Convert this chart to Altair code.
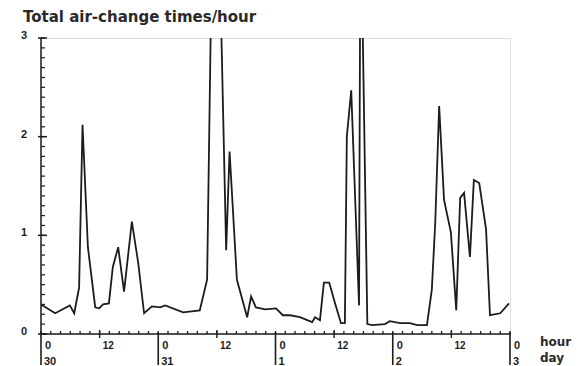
import altair as alt
import pandas as pd

# ---- data (hours since 0h on day 30) ----
hours = [0, 2.9, 5.9, 6.8, 7.8, 8.5, 9.6, 11.1, 11.9, 12.7,
         13.9, 14.7, 15.8, 17.0, 18.6, 19.9, 21.1, 22.7, 24.4, 25.4,
         29.1, 32.5, 34.0, 35.6, 37.9, 38.6, 40.1, 42.2, 43.0, 44.0,
         45.9, 48.1, 49.5, 51.0, 53.0, 55.5, 56.1, 57.1, 57.9, 59.0,
         60.2, 61.4, 62.2, 62.6, 63.5, 65.1, 65.4, 66.8, 67.8, 70.4,
         71.4, 73.5, 75.5, 77.0, 79.0, 80.0, 80.7, 81.5, 82.5, 83.9,
         85.0, 85.8, 86.6, 87.8, 88.6, 89.7, 91.1, 91.9, 94.0, 95.8]
values = [0.30, 0.21, 0.29, 0.21, 0.47, 2.12, 0.88, 0.27, 0.26, 0.30,
          0.31, 0.68, 0.88, 0.43, 1.14, 0.72, 0.21, 0.28, 0.27, 0.29,
          0.22, 0.24, 0.55, 6.0, 0.85, 1.85, 0.55, 0.17, 0.38, 0.27,
          0.25, 0.26, 0.19, 0.19, 0.17, 0.12, 0.17, 0.14, 0.52, 0.52,
          0.31, 0.11, 0.11, 2.0, 2.47, 0.29, 4.5, 0.10, 0.09, 0.10,
          0.13, 0.11, 0.11, 0.09, 0.09, 0.45, 1.13, 2.31, 1.36, 1.03,
          0.24, 1.38, 1.43, 0.78, 1.56, 1.53, 1.06, 0.19, 0.21, 0.31]

day_hours = [0, 24, 48, 72, 96]
day_labels = ["30", "31", "1", "2", "3"]
noon_hours = [12, 36, 60, 84]
noon_labels = ["12", "12", "12", "12"]
minor_hours = list(range(0, 97, 2))
y_major = [0, 1, 2, 3]
y_major_labels = ["0", "1", "2", "3"]
y_minor = [i / 10 for i in range(0, 31)]

title_text = "Total air-change times/hour"

W, H = 469, 296
INK = "#1c1c1c"
FONT = "Liberation Sans"

xs = alt.Scale(domain=[0, 96], nice=False, zero=False)
ys = alt.Scale(domain=[0, 3], nice=False)

df = pd.DataFrame({"hour": hours, "value": values})
one = pd.DataFrame({"k": [0]})

line = alt.Chart(df).mark_line(color=INK, strokeWidth=1.8, clip=True,
                               strokeJoin="miter").encode(
    x=alt.X("hour:Q", scale=xs, axis=None),
    y=alt.Y("value:Q", scale=ys, axis=None),
)

# axis lines
x_axis = alt.Chart(one).mark_rule(color=INK, strokeWidth=1.5).encode(
    x=alt.value(0), x2=alt.value(W), y=alt.value(H))
y_axis = alt.Chart(one).mark_rule(color=INK, strokeWidth=1.5).encode(
    x=alt.value(0), y=alt.value(0), y2=alt.value(H))

# x ticks
xminor = alt.Chart(pd.DataFrame({"hour": minor_hours})).mark_rule(
    color=INK, strokeWidth=1.3).encode(
    x=alt.X("hour:Q", scale=xs), y=alt.value(H - 3), y2=alt.value(H))
xnoon = alt.Chart(pd.DataFrame({"hour": noon_hours})).mark_rule(
    color=INK, strokeWidth=1.4).encode(
    x=alt.X("hour:Q", scale=xs), y=alt.value(H - 4), y2=alt.value(H + 4))
xday = alt.Chart(pd.DataFrame({"hour": day_hours})).mark_rule(
    color=INK, strokeWidth=1.6).encode(
    x=alt.X("hour:Q", scale=xs), y=alt.value(H - 2), y2=alt.value(H + 31))

hour0_lab = alt.Chart(pd.DataFrame({"hour": day_hours, "t": ["0"] * 5})).mark_text(
    align="left", baseline="alphabetic", dx=4, font=FONT, fontSize=11,
    fontWeight="bold", color=INK).encode(
    x=alt.X("hour:Q", scale=xs), y=alt.value(H + 15), text="t:N")
noon_lab = alt.Chart(pd.DataFrame({"hour": noon_hours, "t": noon_labels})).mark_text(
    align="left", baseline="alphabetic", dx=3, font=FONT, fontSize=10,
    fontWeight="bold", color=INK).encode(
    x=alt.X("hour:Q", scale=xs), y=alt.value(H + 15), text="t:N")
day_lab = alt.Chart(pd.DataFrame({"hour": day_hours, "t": day_labels})).mark_text(
    align="left", baseline="alphabetic", dx=3, font=FONT, fontSize=11,
    fontWeight="bold", color=INK).encode(
    x=alt.X("hour:Q", scale=xs), y=alt.value(H + 31), text="t:N")

unit_lab = alt.Chart(pd.DataFrame({"t": ["hour", "day"], "yy": [H + 12, H + 28]})).mark_text(
    align="left", baseline="alphabetic", font="DejaVu Sans", fontSize=12,
    fontWeight="bold", color="#2a2a2a").encode(
    x=alt.value(W + 30), y=alt.Y("yy:Q", scale=None), text="t:N")

# y ticks
yminor = alt.Chart(pd.DataFrame({"value": y_minor})).mark_rule(
    color=INK, strokeWidth=1.2).encode(
    y=alt.Y("value:Q", scale=ys), x=alt.value(0), x2=alt.value(4))
ymajor = alt.Chart(pd.DataFrame({"value": y_major})).mark_rule(
    color=INK, strokeWidth=1.5).encode(
    y=alt.Y("value:Q", scale=ys), x=alt.value(-3), x2=alt.value(6))
ylab = alt.Chart(pd.DataFrame({"value": y_major, "t": y_major_labels})).mark_text(
    align="center", baseline="middle", dy=-2, font=FONT, fontSize=11,
    fontWeight="bold", color=INK).encode(
    y=alt.Y("value:Q", scale=ys), x=alt.value(-17), text="t:N")

title = alt.Chart(pd.DataFrame({"t": [title_text]})).mark_text(
    align="left", baseline="alphabetic", font="DejaVu Sans", fontSize=15,
    fontWeight="bold", color="#2a2a2a").encode(
    x=alt.value(-18), y=alt.value(-16), text="t:N")

chart = alt.layer(
    line, x_axis, y_axis, xminor, xnoon, xday, hour0_lab, noon_lab, day_lab,
    unit_lab, yminor, ymajor, ylab, title
).properties(
    width=W, height=H,
    autosize=alt.AutoSizeParams(type="none"),
    padding={"left": 33, "top": 30, "right": 64, "bottom": 32},
).configure_view(stroke=None).configure(background="white")

chart.save("out.html", embed_options={"renderer": "svg", "actions": False})
